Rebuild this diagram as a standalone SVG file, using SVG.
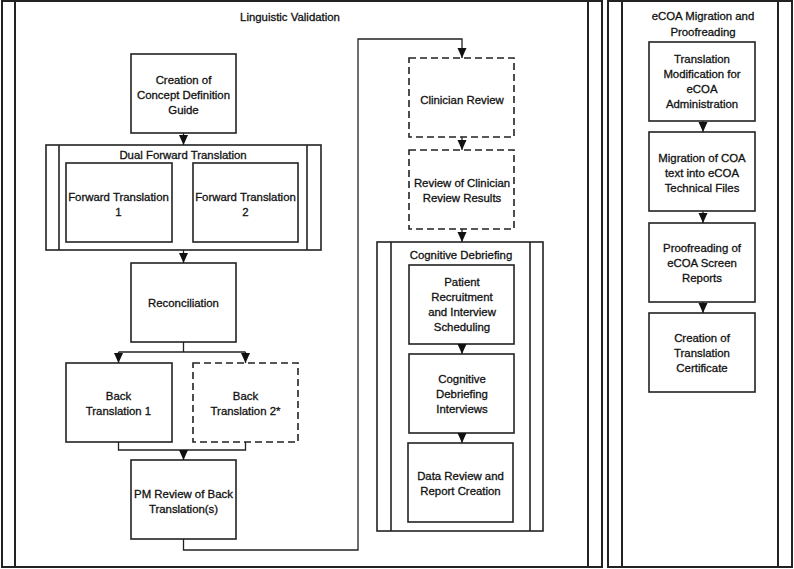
<svg xmlns="http://www.w3.org/2000/svg" width="794" height="569" viewBox="0 0 794 569">
<defs>
<marker id="ah" markerUnits="userSpaceOnUse" markerWidth="10" markerHeight="10" viewBox="0 0 10 10" refX="10" refY="5" orient="auto">
<path d="M0,0.5 L10,5 L0,9.5 Z" fill="#111"/>
</marker>
<style>
.frame{fill:#fff;stroke:#222;stroke-width:2}
.box{fill:#fff;stroke:#222;stroke-width:1.6}
.dash{fill:#fff;stroke:#222;stroke-width:1.6;stroke-dasharray:7 4}
.ln{fill:none;stroke:#222;stroke-width:1.3}
.arr{fill:none;stroke:#222;stroke-width:1.3;marker-end:url(#ah)}
text{font-family:"Liberation Sans",Arial,sans-serif;font-size:11.4px;fill:#111;stroke:#111;stroke-width:0.3;text-anchor:middle;dominant-baseline:central}
</style>
</defs>
<rect width="794" height="569" fill="#fff"/>

<g id="linguistic-validation">
<rect class="frame" x="2" y="1" width="600" height="566"/>
<line class="ln" x1="15" y1="1" x2="15" y2="567" style="stroke-width:2"/>
<line class="ln" x1="588" y1="1" x2="588" y2="567" style="stroke-width:2"/>
<text x="290" y="17">Linguistic Validation</text>
</g>

<g id="ecoa-migration">
<rect class="frame" x="608" y="1" width="184" height="566"/>
<line class="ln" x1="622" y1="1" x2="622" y2="567" style="stroke-width:2"/>
<line class="ln" x1="778" y1="1" x2="778" y2="567" style="stroke-width:2"/>
<text x="703" y="16">eCOA Migration and</text>
<text x="703" y="32">Proofreading</text>
</g>

<g id="concept-guide">
<rect class="box" x="131" y="54" width="105" height="79"/>
<text x="183.5" y="80">Creation of</text>
<text x="183.5" y="95">Concept Definition</text>
<text x="183.5" y="110">Guide</text>
</g>

<g id="dual-forward">
<rect class="box" x="46" y="145" width="275" height="105"/>
<line class="ln" x1="59" y1="145" x2="59" y2="250" style="stroke-width:1.6"/>
<line class="ln" x1="307" y1="145" x2="307" y2="250" style="stroke-width:1.6"/>
<text x="183" y="155">Dual Forward Translation</text>
</g>

<g id="forward-1">
<rect class="box" x="66" y="163" width="106" height="79"/>
<text x="118.5" y="197">Forward Translation</text>
<text x="118.5" y="212">1</text>
</g>

<g id="forward-2">
<rect class="box" x="193" y="163" width="105" height="79"/>
<text x="245.5" y="197">Forward Translation</text>
<text x="245.5" y="212">2</text>
</g>

<g id="reconciliation">
<rect class="box" x="131" y="263" width="105" height="79"/>
<text x="183.5" y="303">Reconciliation</text>
</g>

<g id="back-1">
<rect class="box" x="66" y="363" width="106" height="79"/>
<text x="118.5" y="396">Back</text>
<text x="118.5" y="411">Translation 1</text>
</g>

<g id="back-2">
<rect class="dash" x="193" y="363" width="105" height="79"/>
<text x="245.5" y="396">Back</text>
<text x="245.5" y="411">Translation 2*</text>
</g>

<g id="pm-review">
<rect class="box" x="131" y="460" width="105" height="79"/>
<text x="183.5" y="494">PM Review of Back</text>
<text x="183.5" y="509">Translation(s)</text>
</g>

<g id="clinician-review">
<rect class="dash" x="409" y="58" width="105" height="79"/>
<text x="462" y="100">Clinician Review</text>
</g>

<g id="review-results">
<rect class="dash" x="409" y="150" width="105" height="79"/>
<text x="462" y="183">Review of Clinician</text>
<text x="462" y="198">Review Results</text>
</g>

<g id="cognitive-debriefing">
<rect class="box" x="377" y="242" width="166" height="289"/>
<line class="ln" x1="391" y1="242" x2="391" y2="531" style="stroke-width:1.6"/>
<line class="ln" x1="530" y1="242" x2="530" y2="531" style="stroke-width:1.6"/>
<text x="461" y="255">Cognitive Debriefing</text>
</g>

<g id="patient-recruitment">
<rect class="box" x="409" y="265" width="105" height="79"/>
<text x="462" y="282">Patient</text>
<text x="462" y="297">Recruitment</text>
<text x="462" y="312">and Interview</text>
<text x="462" y="327">Scheduling</text>
</g>

<g id="cd-interviews">
<rect class="box" x="409" y="354" width="105" height="79"/>
<text x="462" y="379">Cognitive</text>
<text x="462" y="394">Debriefing</text>
<text x="462" y="409">Interviews</text>
</g>

<g id="data-review">
<rect class="box" x="408" y="443" width="105" height="79"/>
<text x="460.5" y="476">Data Review and</text>
<text x="460.5" y="491">Report Creation</text>
</g>

<g id="translation-modification">
<rect class="box" x="649" y="42" width="106" height="79"/>
<text x="702" y="59">Translation</text>
<text x="702" y="74">Modification for</text>
<text x="702" y="89">eCOA</text>
<text x="702" y="104">Administration</text>
</g>

<g id="migration">
<rect class="box" x="649" y="132" width="106" height="79"/>
<text x="702" y="158">Migration of COA</text>
<text x="702" y="173">text into eCOA</text>
<text x="702" y="188">Technical Files</text>
</g>

<g id="proofreading">
<rect class="box" x="649" y="223" width="106" height="79"/>
<text x="702" y="248">Proofreading of</text>
<text x="702" y="263">eCOA Screen</text>
<text x="702" y="278">Reports</text>
</g>

<g id="certificate">
<rect class="box" x="649" y="313" width="106" height="79"/>
<text x="702" y="338">Creation of</text>
<text x="702" y="353">Translation</text>
<text x="702" y="368">Certificate</text>
</g>

<g id="connectors">
<path class="arr" d="M183.5,133 V145"/>
<path class="arr" d="M183.5,250 V263"/>
<path class="ln" d="M183.5,342 V352 M118.5,352 H245.5"/>
<path class="arr" d="M118.5,352 V363"/>
<path class="arr" d="M245.5,352 V363"/>
<path class="ln" d="M118.5,442 V450 H245.5 V442"/>
<path class="arr" d="M183.5,450 V460"/>
<path class="arr" d="M183.5,539 V550 H358 V39 H462 V58"/>
<path class="arr" d="M462,137 V150"/>
<path class="arr" d="M462,229 V242"/>
<path class="arr" d="M462,344 V354"/>
<path class="arr" d="M462,433 V443"/>
<path class="arr" d="M703,121 V132"/>
<path class="arr" d="M703,211 V223"/>
<path class="arr" d="M703,302 V313"/>
</g>
</svg>
